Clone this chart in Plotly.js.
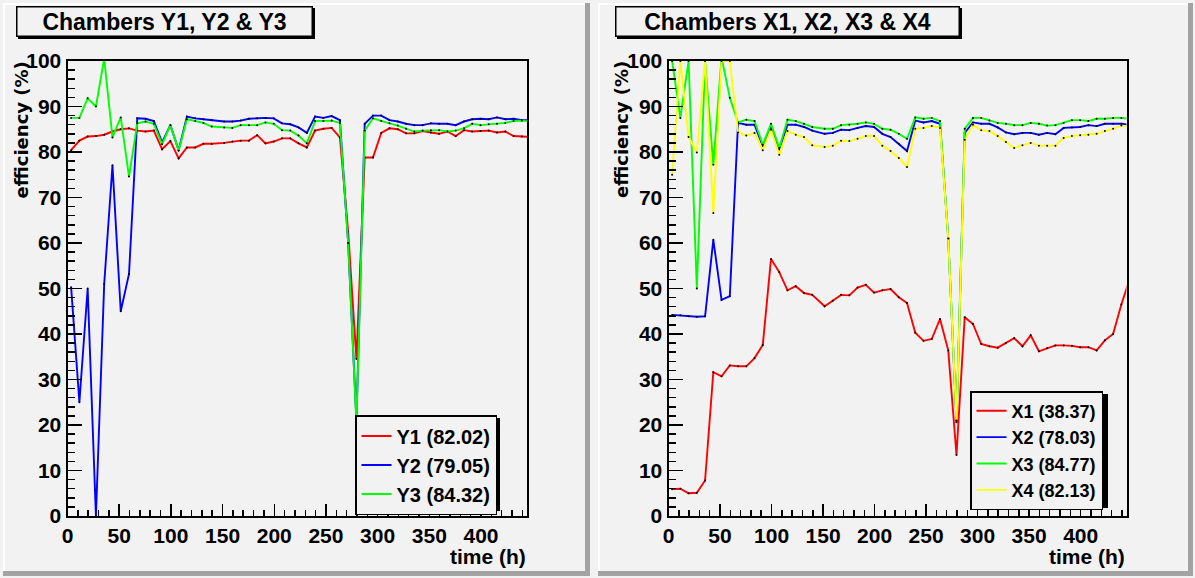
<!DOCTYPE html>
<html>
<head>
<meta charset="utf-8">
<script src="https://cdn.plot.ly/plotly-3.0.1.min.js"></script>
<style>html,body{margin:0;padding:0;background:#f2f2f2;}#chart{width:1195px;height:578px;}</style>
</head>
<body>
<div id="chart"></div>
<script>
// ---- data ----
const times = [3.5, 11.5, 19.5, 27.5, 35.5, 43.5, 51.5, 59.5, 67.5, 75.5, 83.5, 91.5, 99.5, 107.5, 115.5, 123.5, 131.5, 139.5,
  151.5, 159.5, 167.5, 175.5, 183.5, 191.5, 199.5, 207.5, 215.5, 223.5, 231.5, 239.5, 247.5, 255.5, 263.5,
  271.5, 279.5,
  287.5, 295.5, 303.5, 311.5, 319.5, 327.5, 335.5, 343.5, 351.5, 359.5, 367.5, 375.5, 383.5, 391.5, 399.5, 407.5, 415.5, 423.5, 431.5, 439.5, 447.5];

const Y1 = [80.4, 82.5, 83.4, 83.5, 83.8, 84.5, 85.0, 85.2, 84.7, 84.5, 84.7, 80.6, 82.4, 78.6, 81.0, 81.0, 81.8, 81.8,
  82.0, 82.3, 82.5, 82.5, 83.7, 81.9, 82.3, 83.0, 83.0, 81.9, 81.0, 84.7, 85.1, 85.3, 83.2,
  62.5, 34.5,
  78.8, 78.8, 84.2, 85.2, 85.0, 84.1, 84.1, 84.6, 84.3, 84.0, 84.5, 83.5, 84.8, 84.5, 84.6, 84.7, 84.3, 84.5, 83.5, 83.4, 83.3];
const Y2 = [50.3, 25.0, 50.0, 0.0, 51.0, 77.1, 45.0, 53.2, 87.4, 87.3, 86.8, 82.1, 85.9, 80.4, 87.8, 87.4, 87.2, 87.0,
  86.7, 86.7, 86.9, 87.3, 87.4, 87.5, 87.4, 86.3, 86.1, 85.4, 84.2, 87.8, 87.5, 87.9, 87.0,
  60.0, 21.0,
  86.2, 88.0, 88.0, 87.0, 86.7, 86.2, 85.9, 85.9, 86.3, 86.2, 86.2, 85.9, 86.7, 87.2, 87.3, 87.2, 87.6, 87.2, 87.3, 87.0, 87.0];
const Y3 = [87.5, 87.5, 91.8, 90.0, 100.5, 83.2, 87.6, 74.6, 86.3, 86.7, 86.2, 81.7, 85.9, 80.3, 87.2, 86.8, 86.4, 85.6,
  85.4, 85.3, 85.9, 85.9, 85.9, 86.5, 86.2, 84.8, 84.7, 83.6, 81.9, 86.8, 86.8, 86.9, 86.4,
  60.0, 20.5,
  84.7, 87.4, 86.8, 86.3, 85.8, 85.1, 84.5, 84.7, 84.8, 84.8, 84.5, 84.7, 85.2, 86.2, 85.9, 86.1, 86.2, 86.4, 86.8, 86.9, 86.7];

const X1 = [5.9, 6.0, 5.0, 5.1, 7.8, 31.6, 30.7, 33.1, 32.9, 32.9, 34.7, 37.6, 56.5, 53.6, 49.6, 50.5, 49.0, 48.6,
  46.1, 47.3, 48.6, 48.5, 50.2, 50.8, 49.1, 49.6, 49.9, 48.1, 46.8, 40.3, 38.5, 38.9, 43.3,
  36.4, 13.4,
  43.7, 42.2, 37.8, 37.3, 37.0, 38.0, 39.1, 37.3, 39.7, 36.2, 36.9, 37.5, 37.5, 37.4, 37.1, 37.1, 36.4, 38.6, 40.0, 46.5, 52.0];
const X2 = [44.2, 44.1, 43.9, 43.8, 43.9, 60.7, 47.5, 48.3, 86.4, 86.0, 86.0, 81.3, 85.8, 80.5, 86.0, 86.0, 85.5, 84.7,
  84.0, 84.2, 84.9, 84.8, 85.3, 85.7, 85.5, 84.0, 83.3, 81.8, 80.2, 86.9, 86.5, 86.8, 86.2,
  61.0, 20.6,
  84.2, 86.5, 86.2, 86.2, 85.4, 84.3, 83.9, 84.2, 84.2, 83.8, 84.2, 83.9, 85.3, 85.4, 85.5, 85.9, 85.7, 86.2, 86.2, 86.2, 86.0];
const X3 = [100.0, 87.5, 100.0, 50.0, 100.0, 77.2, 100.8, 91.9, 86.5, 87.1, 86.8, 81.6, 86.2, 80.9, 87.1, 86.8, 86.2, 85.5,
  85.1, 85.1, 85.9, 86.0, 86.2, 86.5, 86.2, 85.1, 84.9, 84.0, 82.9, 87.6, 87.3, 87.5, 86.8,
  61.0, 21.0,
  85.1, 87.5, 87.5, 86.9, 86.4, 86.2, 85.9, 85.9, 86.4, 86.2, 85.8, 85.9, 86.4, 87.0, 87.0, 86.8, 87.3, 87.3, 87.5, 87.5, 87.3];
const X4 = [75.0, 100.0, 83.3, 79.9, 100.0, 66.6, 100.0, 100.0, 84.3, 83.6, 84.2, 80.4, 84.9, 79.4, 84.6, 83.8, 83.3, 81.5,
  81.1, 81.4, 82.5, 82.4, 82.9, 83.5, 83.5, 81.4, 80.2, 78.7, 76.7, 85.1, 85.3, 85.7, 85.3,
  61.0, 21.0,
  82.7, 86.0, 84.8, 84.6, 83.5, 82.2, 80.9, 81.5, 82.0, 81.4, 81.4, 81.4, 83.1, 83.5, 83.7, 83.8, 84.0, 84.6, 85.1, 85.8, 85.5];

const yNames = ["Y1 (82.02)", "Y2 (79.05)", "Y3 (84.32)"];
const xNames = ["X1 (38.37)", "X2 (78.03)", "X3 (84.77)", "X4 (82.13)"];
const titles = ["Chambers Y1, Y2 & Y3", "Chambers X1, X2, X3 & X4"];
const xTitle = "time (h)";
const yTitle = "efficiency (%)";

// ---- layout helpers (pixel -> paper) ----
const W = 1195, H = 578;
const fx = p => p / W;
const fy = p => 1 - p / H;
const BG = '#f2f2f2';
const FONT = 'Liberation Sans, Arial, sans-serif';

const traces = [];
function addSeries(ys, name, color, xa, ya, legend) {
  traces.push({x: times, y: ys, name: name, type: 'scatter', mode: 'lines',
    line: {color: color, width: 1.9}, xaxis: xa, yaxis: ya, legend: legend});
  traces.push({x: times, y: ys, type: 'scatter', mode: 'markers', showlegend: false, hoverinfo: 'skip',
    marker: {color: '#000', size: 2}, xaxis: xa, yaxis: ya});
}
addSeries(Y1, yNames[0], '#ff0000', 'x', 'y', 'legend');
addSeries(Y2, yNames[1], '#0000ff', 'x', 'y', 'legend');
addSeries(Y3, yNames[2], '#00ff00', 'x', 'y', 'legend');
addSeries(X1, xNames[0], '#ff0000', 'x2', 'y2', 'legend2');
addSeries(X2, xNames[1], '#0000ff', 'x2', 'y2', 'legend2');
addSeries(X3, xNames[2], '#00ff00', 'x2', 'y2', 'legend2');
addSeries(X4, xNames[3], '#ffff00', 'x2', 'y2', 'legend2');

const tickFont = {family: FONT, size: 21, color: '#000', weight: 'bold'};
function xAxis(dom) {
  return {domain: dom, range: [0, 444.5], dtick: 50, tick0: 0, ticks: 'inside', ticklen: 12, tickwidth: 1.5,
    tickcolor: '#000', showline: true, linecolor: '#000', linewidth: 2, mirror: true, showgrid: false,
    zeroline: false, tickfont: tickFont, fixedrange: true,
    minor: {dtick: 10, ticks: 'inside', ticklen: 6, tickwidth: 1.5, tickcolor: '#000', showgrid: false}};
}
function yAxis(anchor) {
  return {domain: [fy(516), fy(61)], range: [0, 100], dtick: 10, tick0: 0, ticks: 'inside', ticklen: 14, tickwidth: 1.5,
    tickcolor: '#000', showline: true, linecolor: '#000', linewidth: 2, mirror: true, showgrid: false,
    zeroline: false, tickfont: tickFont, anchor: anchor, fixedrange: true,
    minor: {dtick: 2, ticks: 'inside', ticklen: 7, tickwidth: 1.5, tickcolor: '#000', showgrid: false}};
}

function rect(x0, y0, x1, y1, color, layer) {
  return {type: 'rect', xref: 'paper', yref: 'paper', x0: fx(x0), x1: fx(x1), y0: fy(y1), y1: fy(y0),
    fillcolor: color, line: {width: 0}, layer: layer || 'below'};
}
const shapes = [];
function pad(x0, y0, x1, y1) {
  shapes.push(rect(x0, y0, x1, y0 + 2, '#ffffff'));
  shapes.push(rect(x0, y0, x0 + 2, y1, '#ffffff'));
  shapes.push(rect(x0, y1 - 5, x1, y1, '#a3a3a3'));
  shapes.push(rect(x1 - 5, y0, x1, y1, '#a3a3a3'));
}
pad(3, 3, 590, 576);
pad(598, 3, 1193, 576);
// title box shadows
shapes.push(rect(18, 8, 315, 39, '#000', 'above'));
shapes.push(rect(617, 8, 962, 39, '#000', 'above'));
// legend shadows
shapes.push(rect(358, 418, 500, 511, '#000', 'above'));
shapes.push(rect(973, 394, 1108, 508, '#000', 'above'));

const annotations = [];
function titleBox(text, x0, x1) {
  annotations.push({text: text, xref: 'paper', yref: 'paper', x: fx((x0 + x1) / 2), y: fy(21.5),
    xanchor: 'center', yanchor: 'middle', showarrow: false, width: x1 - x0 - 3, height: 28,
    bgcolor: BG, bordercolor: '#000', borderwidth: 1.5, borderpad: 0,
    font: {family: FONT, size: 23, color: '#000', weight: 'bold'}});
}
titleBox(titles[0], 16, 313);
titleBox(titles[1], 615, 960);
function axisTitles(xRight, yX) {
  annotations.push({text: xTitle, xref: 'paper', yref: 'paper', x: fx(xRight), y: fy(556), xanchor: 'right',
    yanchor: 'middle', showarrow: false, font: {family: FONT, size: 21, color: '#000', weight: 'bold'}});
  annotations.push({text: yTitle, xref: 'paper', yref: 'paper', x: fx(yX), y: fy(130), xanchor: 'center',
    yanchor: 'middle', textangle: -90, showarrow: false,
    font: {family: 'DejaVu Sans, sans-serif', size: 18, color: '#000', weight: 'bold'}});
}
axisTitles(528, 20.5);
axisTitles(1127, 621);

const layout = {
  width: W, height: H, margin: {l: 0, r: 0, t: 0, b: 0},
  paper_bgcolor: BG, plot_bgcolor: BG, showlegend: true,
  xaxis: xAxis([fx(67.5), fx(527)]), yaxis: yAxis('x'),
  xaxis2: xAxis([fx(668.5), fx(1126.5)]), yaxis2: yAxis('x2'),
  legend: {x: fx(355), y: fy(415), xanchor: 'left', yanchor: 'top', bgcolor: BG, bordercolor: '#000', borderwidth: 1.5,
    font: {family: FONT, size: 20, color: '#000', weight: 'bold'}, itemwidth: 30, tracegroupgap: 0},
  legend2: {x: fx(970), y: fy(391), xanchor: 'left', yanchor: 'top', bgcolor: BG, bordercolor: '#000', borderwidth: 1.5,
    font: {family: FONT, size: 18, color: '#000', weight: 'bold'}, itemwidth: 30, tracegroupgap: 0},
  shapes: shapes, annotations: annotations
};
Plotly.newPlot('chart', traces, layout, {displayModeBar: false, staticPlot: true});
</script>
</body>
</html>
